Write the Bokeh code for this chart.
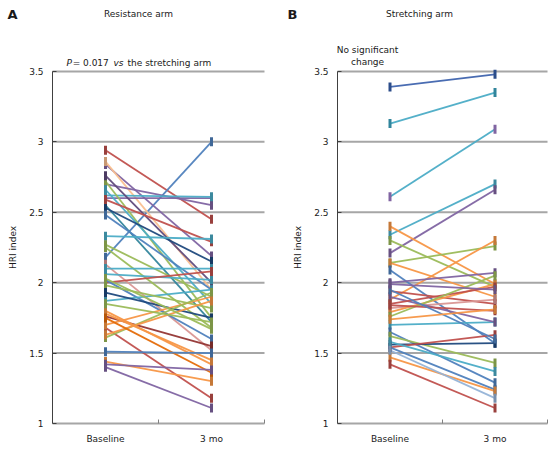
from bokeh.plotting import figure
from bokeh.layouts import row
from bokeh.models import Label, FixedTicker, Range1d, ColumnDataSource, LinearAxis
from bokeh.embed import file_html
from bokeh.resources import INLINE

# ---------------- data ----------------
categories = ["Baseline", "3 mo"]
y_ticks = [1, 1.5, 2, 2.5, 3, 3.5]
y_tick_labels = ["1", "1.5", "2", "2.5", "3", "3.5"]

res_baseline = [2.94, 2.18, 2.84, 2.86, 2.70, 2.60, 2.62, 2.72, 2.76, 2.66, 2.55, 2.53,
                2.59, 2.48, 2.33, 2.27, 2.25, 2.13, 2.10, 2.06, 2.00, 2.02, 1.87, 1.98,
                1.93, 1.76, 1.68, 1.70, 1.61, 1.63, 1.80, 1.78, 1.75, 1.51, 1.44, 1.42,
                1.40, 1.85, 2.03]
res_3mo = [2.45, 3.00, 2.19, 1.95, 2.55, 2.60, 2.61, 1.75, 2.00, 1.85, 1.72, 2.15,
           2.29, 1.95, 2.31, 1.90, 1.68, 1.52, 2.10, 2.02, 2.08, 1.60, 1.95, 1.82,
           1.75, 1.55, 1.18, 1.90, 1.93, 1.87, 1.42, 1.45, 1.36, 1.50, 1.30, 1.38,
           1.11, 1.72, 1.67]
res_colors = ["#C0504D", "#4F81BD", "#8064A2", "#FAC090", "#8064A2", "#8064A2", "#4BACC6",
              "#9BBB59", "#604A7B", "#4BACC6", "#31859C", "#1F497D", "#C0504D", "#4F81BD",
              "#4BACC6", "#9BBB59", "#9BBB59", "#D99694", "#4BACC6", "#4BACC6", "#C0504D",
              "#4F81BD", "#4BACC6", "#9BBB59", "#1F497D", "#943634", "#C0504D", "#F79646",
              "#9BBB59", "#F79646", "#F79646", "#F79646", "#E46C0A", "#4F81BD", "#F79646",
              "#8064A2", "#8064A2", "#9BBB59", "#9BBB59"]

str_baseline = [3.39, 3.13, 2.61, 2.34, 2.21, 2.40, 2.30, 2.14, 1.88, 2.14, 2.09, 2.00,
                1.94, 1.82, 1.79, 1.70, 1.90, 1.65, 1.62, 1.56, 1.54, 1.54, 1.58, 1.47,
                1.42, 1.52, 1.85, 1.76, 1.84, 1.95, 1.99, 1.74]
str_3mo = [3.48, 3.35, 3.09, 2.70, 2.66, 1.99, 1.97, 2.26, 2.30, 1.90, 1.57, 2.07,
           1.85, 1.88, 1.99, 1.72, 1.72, 1.29, 1.43, 1.57, 1.63, 1.24, 1.37, 1.23,
           1.11, 1.18, 1.97, 2.05, 1.80, 1.60, 1.95, 1.81]
str_colors = ["#3F64AE", "#4BACC6", "#4BACC6", "#4BACC6", "#8064A2", "#F79646", "#9BBB59",
              "#9BBB59", "#F79646", "#F79646", "#4F81BD", "#8064A2", "#C0504D", "#D99694",
              "#F79646", "#4BACC6", "#8064A2", "#4F81BD", "#9BBB59", "#1F497D", "#C0504D",
              "#4F81BD", "#4BACC6", "#F79646", "#C0504D", "#95B3D7", "#C0504D", "#9BBB59",
              "#C0504D", "#4F81BD", "#8064A2", "#F79646"]
str_marker_colors = ["#2C4D8A", "#31859C", "#8064A2"] + [None] * (len(str_colors) - 3)

FONT = "DejaVu Sans"
TXT = "#1a1a1a"
HEIGHT = 451
X_BOUNDS = (0, 2)


def darker(hex_color, f=0.8):
    h = hex_color.lstrip("#")
    r, g, b = (int(h[i:i + 2], 16) for i in (0, 2, 4))
    return "#%02x%02x%02x" % (int(r * f), int(g * f), int(b * f))


def make_panel(baseline, follow, colors, marker_colors, width, x_lo, x_hi):
    p = figure(width=width, height=HEIGHT, output_backend="svg", toolbar_location=None,
               x_range=Range1d(x_lo, x_hi), y_range=Range1d(0.801, 4.004),
               x_axis_location=None, y_axis_location=None, min_border=0)
    p.outline_line_color = None
    p.background_fill_color = "white"
    p.border_fill_color = "white"
    for g in p.grid:
        g.visible = False

    # horizontal grid lines, spanning the axis extent only
    gy = y_ticks[1:]
    p.segment(x0=[X_BOUNDS[0]] * len(gy), x1=[X_BOUNDS[1]] * len(gy), y0=gy, y1=gy,
              line_color="#a6a6a6", line_width=2)

    xpos = [i + 0.5 for i in range(len(categories))]
    xs = [[xpos[0], xpos[1]] for _ in baseline]
    ys = [[b, f] for b, f in zip(baseline, follow)]
    p.multi_line(xs=xs, ys=ys, line_color=colors, line_width=1.8, line_alpha=0.95)

    mcols = [m if m else darker(c) for m, c in zip(marker_colors, colors)]
    mx = [xpos[0]] * len(baseline) + [xpos[1]] * len(follow)
    my = list(baseline) + list(follow)
    mc = mcols + mcols
    src = ColumnDataSource(dict(x=mx, y=my, c=mc))
    p.rect(x="x", y="y", width=3, height=9, width_units="screen", height_units="screen",
           fill_color="c", line_color=None, source=src)

    # x axis (fixed at y = 1)
    xa = LinearAxis(fixed_location=y_ticks[0], bounds=X_BOUNDS,
                    ticker=FixedTicker(ticks=xpos, minor_ticks=[1.0, 2.0]))
    xa.major_label_overrides = {xpos[i]: categories[i] for i in range(len(categories))}
    xa.major_tick_line_color = None
    xa.major_tick_in = 0
    xa.major_tick_out = 0
    xa.minor_tick_in = 4
    xa.minor_tick_out = 0
    xa.minor_tick_line_color = "#808080"
    xa.axis_line_color = "#a6a6a6"
    xa.axis_line_width = 2
    xa.major_label_standoff = 11
    xa.major_label_text_font = FONT
    xa.major_label_text_font_size = "9px"
    xa.major_label_text_color = TXT
    p.add_layout(xa, "below")

    # y axis (fixed at x = 0)
    ya = LinearAxis(fixed_location=X_BOUNDS[0], bounds=(y_ticks[0], y_ticks[-1]),
                    ticker=FixedTicker(ticks=y_ticks, minor_ticks=[]))
    ya.major_label_overrides = {t: l for t, l in zip(y_ticks, y_tick_labels)}
    ya.major_tick_in = 4
    ya.major_tick_out = 0
    ya.major_tick_line_color = "#404040"
    ya.axis_line_color = "#404040"
    ya.axis_line_width = 1
    ya.major_label_standoff = 9
    ya.major_label_text_font = FONT
    ya.major_label_text_font_size = "9px"
    ya.major_label_text_color = TXT
    ya.axis_label = "HRI index"
    ya.axis_label_text_font = FONT
    ya.axis_label_text_font_size = "9px"
    ya.axis_label_text_font_style = "normal"
    ya.axis_label_text_color = TXT
    ya.axis_label_standoff = 8
    p.add_layout(ya, "left")
    return p


def add_text(p, x, y, text, size="9px", style="normal", align="left"):
    p.add_layout(Label(x=x, y=y, x_units="data", y_units="data", text=text,
                       text_font=FONT, text_font_size=size, text_font_style=style,
                       text_align=align, text_baseline="middle", text_color=TXT))


left = make_panel(res_baseline, res_3mo, res_colors, [None] * len(res_colors), 278, -0.4906, 2.132)
add_text(left, -0.377, 3.905, "A", size="13px", style="bold", align="center")
add_text(left, 0.811, 3.905, "Resistance arm", align="center")
add_text(left, 0.132, 3.557, "P", style="italic")
add_text(left, 0.19, 3.557, "= 0.017")
add_text(left, 0.575, 3.557, "vs", style="italic")
add_text(left, 0.708, 3.557, "the stretching arm")

right = make_panel(str_baseline, str_3mo, str_colors, str_marker_colors, 277, -0.5619, 2.076)
add_text(right, -0.429, 3.905, "B", size="13px", style="bold", align="center")
add_text(right, 0.781, 3.905, "Stretching arm", align="center")
add_text(right, 0.286, 3.656, "No significant", align="center")
add_text(right, 0.286, 3.564, "change", align="center")

layout = row(left, right, spacing=0)
open("out.html", "w").write(file_html(layout, INLINE))
